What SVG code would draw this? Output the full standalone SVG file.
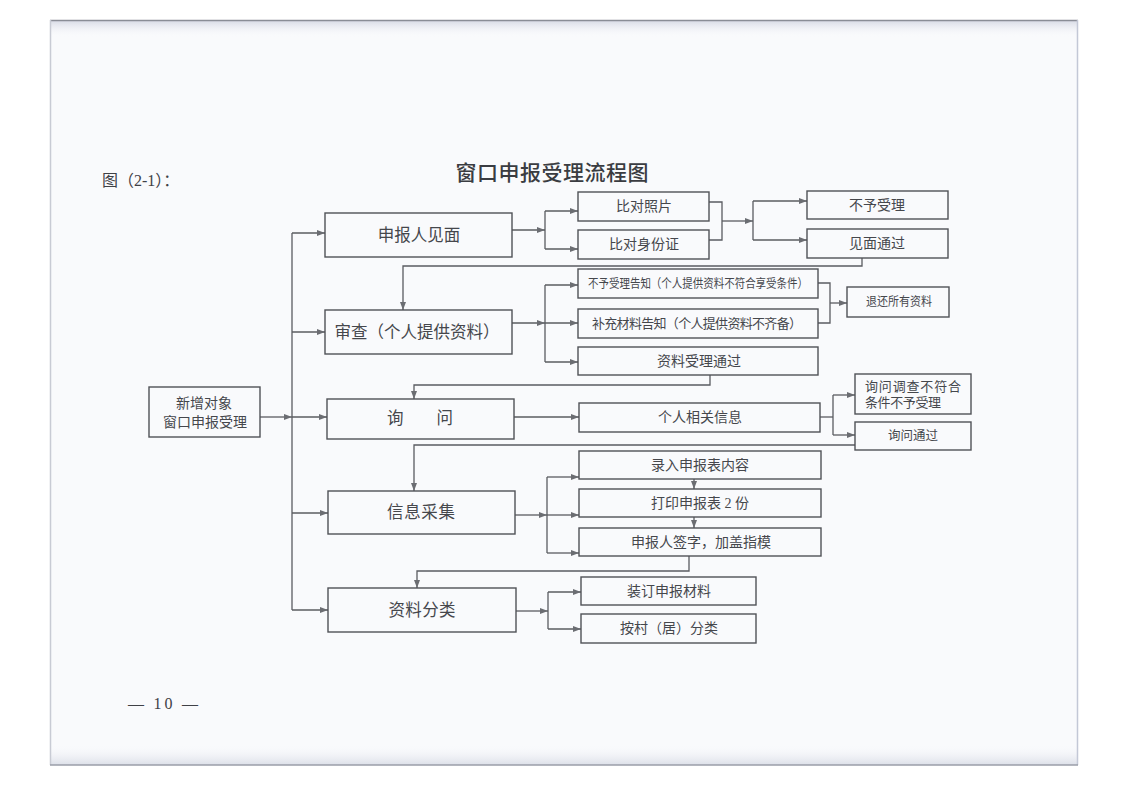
<svg xmlns="http://www.w3.org/2000/svg" width="1122" height="793" viewBox="0 0 1122 793">
<defs>
  <marker id="arr" viewBox="0 0 8 6" refX="8" refY="3" markerWidth="8" markerHeight="6" markerUnits="userSpaceOnUse" orient="auto">
    <path d="M0,0 L8,3 L0,6 z" fill="#6b6d72"/>
  </marker>
  <linearGradient id="topband" x1="0" y1="0" x2="0" y2="1">
    <stop offset="0" stop-color="#d9dce6"/>
    <stop offset="1" stop-color="#f8f9fc" stop-opacity="0"/>
  </linearGradient>
  <linearGradient id="botband" x1="0" y1="0" x2="0" y2="1">
    <stop offset="0" stop-color="#f8f9fc" stop-opacity="0"/>
    <stop offset="1" stop-color="#dcdfe8"/>
  </linearGradient>
</defs>
<style>
  .box { fill: none; stroke: #505257; stroke-width: 1.4; }
  .ln { fill: none; stroke: #5a5c61; stroke-width: 1.3; }
  .ar { marker-end: url(#arr); }
  .t { font-family: "Liberation Serif", "Noto Sans CJK SC", serif; fill: #45474c; text-anchor: middle; }
  .t16 { font-size: 16.5px; }
  .t14 { font-size: 14px; }
  .t13 { font-size: 13px; }
  .t12 { font-size: 12.5px; }
  .title { font-family: "Noto Sans CJK SC", sans-serif; font-size: 21px; font-weight: 500; fill: #3a3c41; text-anchor: middle; }
  .pg { font-family: "Liberation Serif", "Noto Sans CJK SC", serif; font-size: 16px; fill: #3f4146; }
</style>

<!-- page -->
<rect x="0" y="0" width="1122" height="793" fill="#ffffff"/>
<rect x="50" y="20" width="1028" height="745" fill="#f9fafc"/>
<rect x="50" y="21" width="1028" height="16" fill="url(#topband)"/>
<rect x="50" y="745" width="1028" height="20" fill="url(#botband)"/>
<line x1="50" y1="20.5" x2="1078" y2="20.5" stroke="#8a8d96" stroke-width="1.5"/>
<line x1="50.5" y1="20" x2="50.5" y2="765" stroke="#c8cbd4" stroke-width="1.5"/>
<line x1="1077.5" y1="20" x2="1077.5" y2="765" stroke="#c3c8d6" stroke-width="1.5"/>
<line x1="50" y1="765" x2="1078" y2="765" stroke="#9a9ea8" stroke-width="1.5"/>

<text class="pg" x="102" y="186">图（2-1）：</text>
<text class="title" x="552" y="180" textLength="193" lengthAdjust="spacing">窗口申报受理流程图</text>
<text class="pg" x="128" y="709" textLength="70" lengthAdjust="spacing">— 10 —</text>

<!-- connectors -->
<g id="connectors">
  <path class="ln" d="M292,233 V610"/>
  <path class="ln ar" d="M292,233 H325"/>
  <path class="ln ar" d="M292,332 H325"/>
  <path class="ln ar" d="M292,417 H327"/>
  <path class="ln ar" d="M292,513 H328"/>
  <path class="ln ar" d="M292,610 H328"/>
  <path class="ln ar" d="M260,417 H292"/>

  <path class="ln ar" d="M512,230 H545"/>
  <path class="ln" d="M545,211 V249"/>
  <path class="ln ar" d="M545,211 H578"/>
  <path class="ln ar" d="M545,249 H578"/>
  <path class="ln" d="M709,202 H722 V240 H709"/>
  <path class="ln ar" d="M722,221 H753"/>
  <path class="ln" d="M753,201 V240"/>
  <path class="ln ar" d="M753,201 H807"/>
  <path class="ln ar" d="M753,240 H807"/>
  <path class="ln ar" d="M862,258 V266 H403 V310"/>

  <path class="ln ar" d="M512,323 H545"/>
  <path class="ln" d="M545,285 V362"/>
  <path class="ln ar" d="M545,285 H578"/>
  <path class="ln ar" d="M545,323 H578"/>
  <path class="ln ar" d="M545,362 H578"/>
  <path class="ln" d="M818,283 H830 V323 H818"/>
  <path class="ln ar" d="M830,303 H847"/>
  <path class="ln ar" d="M710,375 V385 H414 V399"/>

  <path class="ln ar" d="M514,417 H579"/>
  <path class="ln" d="M820,417 H833"/>
  <path class="ln" d="M833,395 V435"/>
  <path class="ln ar" d="M833,395 H855"/>
  <path class="ln ar" d="M833,435 H855"/>
  <path class="ln ar" d="M855,445 H414 V491"/>

  <path class="ln ar" d="M515,515 H547"/>
  <path class="ln" d="M547,477 V553"/>
  <path class="ln ar" d="M547,477 H579"/>
  <path class="ln ar" d="M547,515 H579"/>
  <path class="ln ar" d="M547,553 H579"/>
  <path class="ln ar" d="M694,479 V489"/>
  <path class="ln ar" d="M694,517 V528"/>
  <path class="ln ar" d="M689,556 V571 H417 V588"/>

  <path class="ln ar" d="M516,611 H548"/>
  <path class="ln" d="M548,592 V629"/>
  <path class="ln ar" d="M548,592 H581"/>
  <path class="ln ar" d="M548,629 H581"/>
</g>

<!-- nodes -->
<g id="n-start">
  <rect class="box" x="149" y="387" width="111" height="50"/>
  <text class="t t14" x="204" y="408">新增对象</text>
  <text class="t t14" x="205" y="427">窗口申报受理</text>
</g>
<g id="n-meet">
  <rect class="box" x="325" y="213" width="187" height="44"/>
  <text class="t t16" x="419" y="241">申报人见面</text>
</g>
<g id="n-review">
  <rect class="box" x="325" y="310" width="187" height="44"/>
  <text class="t t16" x="417" y="338" textLength="165" lengthAdjust="spacing">审查（个人提供资料）</text>
</g>
<g id="n-ask">
  <rect class="box" x="327" y="399" width="187" height="40"/>
  <text class="t t16" x="420" y="424">询　　问</text>
</g>
<g id="n-collect">
  <rect class="box" x="328" y="491" width="187" height="43"/>
  <text class="t t16" x="421" y="518" textLength="68" lengthAdjust="spacing">信息采集</text>
</g>
<g id="n-classify">
  <rect class="box" x="328" y="588" width="188" height="44"/>
  <text class="t t16" x="422" y="616" textLength="67" lengthAdjust="spacing">资料分类</text>
</g>

<g id="n-photo">
  <rect class="box" x="578" y="192" width="131" height="29"/>
  <text class="t t14" x="644" y="211">比对照片</text>
</g>
<g id="n-idcard">
  <rect class="box" x="578" y="230" width="131" height="29"/>
  <text class="t t14" x="644" y="249">比对身份证</text>
</g>
<g id="n-reject1">
  <rect class="box" x="807" y="191" width="141" height="28"/>
  <text class="t t14" x="877" y="210">不予受理</text>
</g>
<g id="n-meetok">
  <rect class="box" x="807" y="229" width="141" height="29"/>
  <text class="t t14" x="877" y="248">见面通过</text>
</g>

<g id="n-rejectnotice">
  <rect class="box" x="578" y="269" width="240" height="29"/>
  <text class="t t12" x="698" y="288" textLength="220" lengthAdjust="spacingAndGlyphs">不予受理告知（个人提供资料不符合享受条件）</text>
</g>
<g id="n-supplement">
  <rect class="box" x="578" y="309" width="240" height="29"/>
  <text class="t t13" x="697" y="328" textLength="210" lengthAdjust="spacing">补充材料告知（个人提供资料不齐备）</text>
</g>
<g id="n-return">
  <rect class="box" x="847" y="287" width="102" height="30"/>
  <text class="t t12" x="899" y="306" textLength="66" lengthAdjust="spacingAndGlyphs">退还所有资料</text>
</g>
<g id="n-docok">
  <rect class="box" x="578" y="347" width="240" height="28"/>
  <text class="t t14" x="699" y="366">资料受理通过</text>
</g>

<g id="n-info">
  <rect class="box" x="579" y="403" width="241" height="29"/>
  <text class="t t14" x="700" y="422">个人相关信息</text>
</g>
<g id="n-reject2">
  <rect class="box" x="855" y="374" width="116" height="40"/>
  <text class="t t13" x="865" y="391" style="text-anchor:start" textLength="96" lengthAdjust="spacing">询问调查不符合</text>
  <text class="t t13" x="865" y="407" style="text-anchor:start" textLength="76" lengthAdjust="spacing">条件不予受理</text>
</g>
<g id="n-askok">
  <rect class="box" x="855" y="422" width="116" height="28"/>
  <text class="t t12" x="913" y="440">询问通过</text>
</g>

<g id="n-enter">
  <rect class="box" x="579" y="451" width="242" height="28"/>
  <text class="t t14" x="700" y="470">录入申报表内容</text>
</g>
<g id="n-print">
  <rect class="box" x="579" y="489" width="242" height="28"/>
  <text class="t t14" x="700" y="508">打印申报表 2 份</text>
</g>
<g id="n-sign">
  <rect class="box" x="579" y="528" width="242" height="28"/>
  <text class="t t14" x="701" y="547">申报人签字，加盖指模</text>
</g>

<g id="n-bind">
  <rect class="box" x="581" y="577" width="175" height="28"/>
  <text class="t t14" x="669" y="596">装订申报材料</text>
</g>
<g id="n-village">
  <rect class="box" x="581" y="614" width="175" height="29"/>
  <text class="t t14" x="669" y="633">按村（居）分类</text>
</g>
</svg>
